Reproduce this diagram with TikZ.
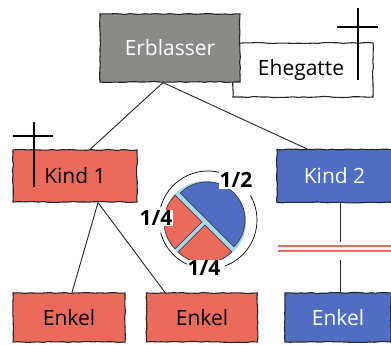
\documentclass[tikz,border=0pt]{standalone}
\usepackage{fontspec}
\setmainfont{Open Sans}
\usetikzlibrary{decorations.pathmorphing}

\definecolor{ashgray}{HTML}{8A8A88}
\definecolor{heirred}{HTML}{EA6A5C}
\definecolor{heirblue}{HTML}{4E6DC3}
\definecolor{gapblue}{HTML}{A9D6E8}

\tikzset{
  rough/.style={decorate, decoration={random steps, segment length=5pt, amplitude=0.5pt}},
  person/.style={rough, draw=black!85, line width=1.1pt, inner sep=0pt,
    font=\fontsize{21}{24}\selectfont},
  link/.style={draw=black!85, line width=0.9pt},
  share/.style={fill=white, inner sep=1pt, font=\fontsize{21}{24}\selectfont\bfseries},
  slice/.style={draw=black!80, line width=0.6pt},
}

\begin{document}
\begin{tikzpicture}[x=1pt, y=1pt]
  \useasboundingbox (0,0) rectangle (391,345);

  % spouse card sits behind the deceased
  \node[person, fill=white, minimum width=140pt, minimum height=54pt] (spouse) at (303,275)
    {\hspace*{-4pt}\raisebox{-2pt}{Ehegatte}};
  \node[person, fill=ashgray, text=white, minimum width=140pt, minimum height=68pt] (erb) at (170,297) {Erblasser};

  \node[person, fill=heirred, minimum width=124pt, minimum height=52pt] (k1) at (75,169) {Kind 1};
  \node[person, fill=heirblue, text=white, minimum width=115pt, minimum height=53pt] (k2) at (334.5,169) {Kind 2};

  \node[person, fill=heirred, minimum width=112pt, minimum height=49pt] (e1) at (69,27.5) {Enkel};
  \node[person, fill=heirred, minimum width=111pt, minimum height=49pt] (e2) at (202,27.5) {Enkel};
  \node[person, fill=heirblue, text=white, minimum width=106pt, minimum height=49pt] (e3) at (338,27.5) {Enkel};

  % family tree links
  \draw[link] ([xshift=-7pt]erb.south) -- ([xshift=15pt]k1.north);
  \draw[link] ([xshift=-7pt]erb.south) -- ([xshift=-27.5pt]k2.north);
  \draw[link] ([xshift=23pt]k1.south) -- ([xshift=3pt]e1.north);
  \draw[link] ([xshift=23pt]k1.south) -- ([xshift=-37pt]e2.north);
  \draw[link] ([xshift=5.5pt]k2.south) -- ([xshift=2pt]e3.north);

  % cut in the line of descent
  \fill[white] (278,85) rectangle (391,103);
  \draw[heirred, line width=1.3pt] (278,99) -- (391,99);
  \draw[heirred, line width=1.3pt] (278,94) -- (391,94);

  % crosses for the deceased
  \draw[line width=1.4pt] (358,337) -- (358,265);
  \draw[line width=1.4pt] (337,318) -- (378,318);
  \draw[line width=1.4pt] (34,223) -- (34,158);
  \draw[line width=1.4pt] (13,209) -- (53,209);

  % shares of the estate
  \coordinate (pc) at (205,123);
  \fill[gapblue] (pc) circle (41pt);
  \filldraw[slice, fill=heirblue] ([shift={(45:3pt)}]pc) -- ++(-45:38pt) arc(-45:135:38pt) -- cycle;
  \filldraw[slice, fill=heirred] ([shift={(180:3pt)}]pc) -- ++(135:38pt) arc(135:225:38pt) -- cycle;
  \filldraw[slice, fill=heirred] ([shift={(270:3pt)}]pc) -- ++(225:38pt) arc(225:315:38pt) -- cycle;

  \draw[line width=0.7pt] (208,125) ++(75:49pt) arc(75:165:49pt);
  \draw[line width=0.7pt] (208,125) ++(195:49pt) arc(195:255:49pt);
  \draw[line width=0.7pt] (208,125) ++(290:49pt) arc(290:390:49pt);

  \node[share] (half) at (236,165) {1/2};
  \node[share] (qa) at (156,127) {1/4};
  \node[share] (qb) at (204,77) {1/4};
\end{tikzpicture}
\end{document}
